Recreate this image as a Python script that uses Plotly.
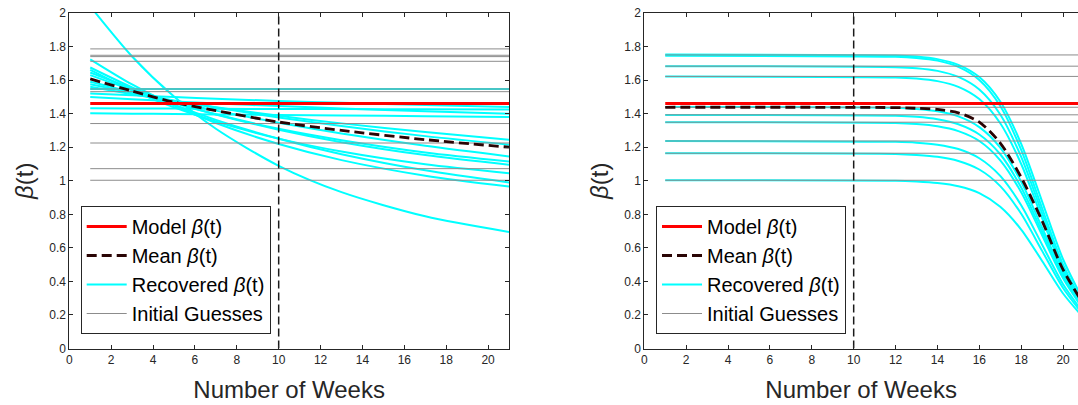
import plotly.graph_objects as go

# ---------------- data ----------------
MODEL_BETA = 1.46
CUTOFF_WEEK = 10
Y_LIMITS = [0, 2]

# Left panel
LEFT_WEEKS = [1, 3, 5, 7, 10, 13, 17, 21]
left_recovered = [
    [2.040, 1.741, 1.502, 1.310, 1.089, 0.932, 0.788, 0.695],
    [1.724, 1.574, 1.449, 1.344, 1.219, 1.123, 1.030, 0.965],
    [1.675, 1.556, 1.453, 1.363, 1.250, 1.158, 1.062, 0.990],
    [1.661, 1.539, 1.438, 1.353, 1.251, 1.174, 1.098, 1.045],
    [1.645, 1.550, 1.467, 1.395, 1.304, 1.230, 1.153, 1.095],
    [1.630, 1.541, 1.463, 1.396, 1.310, 1.242, 1.169, 1.115],
    [1.590, 1.528, 1.471, 1.418, 1.346, 1.282, 1.208, 1.145],
    [1.575, 1.525, 1.478, 1.436, 1.377, 1.326, 1.266, 1.215],
    [1.560, 1.516, 1.475, 1.438, 1.387, 1.342, 1.290, 1.245],
    [1.547, 1.547, 1.547, 1.547, 1.547, 1.547, 1.547, 1.547],
    [1.520, 1.509, 1.499, 1.489, 1.476, 1.465, 1.451, 1.440],
    [1.500, 1.486, 1.473, 1.461, 1.445, 1.431, 1.414, 1.400],
    [1.432, 1.431, 1.430, 1.429, 1.428, 1.427, 1.426, 1.425],
    [1.402, 1.400, 1.398, 1.395, 1.392, 1.389, 1.385, 1.380],
]
left_mean = [1.607, 1.535, 1.468, 1.418, 1.350, 1.300, 1.245, 1.200]
left_guesses = [1.786, 1.748, 1.740, 1.712, 1.547, 1.531, 1.341, 1.225, 1.072, 1.003]
LEFT_SPAN = [1, 21]

# Right panel
RIGHT_WEEKS = [1, 12, 13, 14, 15, 16, 17, 18, 19, 20, 21]
right_recovered = [
    [1.752, 1.747, 1.740, 1.725, 1.691, 1.618, 1.472, 1.220, 0.876, 0.532, 0.280],
    [1.745, 1.739, 1.732, 1.716, 1.679, 1.601, 1.446, 1.184, 0.836, 0.500, 0.260],
    [1.683, 1.677, 1.671, 1.655, 1.619, 1.544, 1.395, 1.142, 0.807, 0.482, 0.251],
    [1.621, 1.616, 1.609, 1.594, 1.560, 1.487, 1.343, 1.100, 0.777, 0.464, 0.241],
    [1.440, 1.435, 1.428, 1.414, 1.384, 1.320, 1.198, 0.994, 0.720, 0.446, 0.242],
    [1.392, 1.387, 1.381, 1.367, 1.337, 1.276, 1.158, 0.960, 0.696, 0.432, 0.234],
    [1.349, 1.344, 1.338, 1.325, 1.296, 1.237, 1.122, 0.931, 0.675, 0.418, 0.227],
    [1.237, 1.232, 1.227, 1.215, 1.189, 1.134, 1.029, 0.854, 0.619, 0.383, 0.208],
    [1.164, 1.160, 1.154, 1.143, 1.118, 1.067, 0.968, 0.803, 0.582, 0.361, 0.196],
    [1.003, 1.000, 0.995, 0.986, 0.967, 0.926, 0.845, 0.709, 0.522, 0.328, 0.180],
]
right_mean = [1.438, 1.436, 1.432, 1.425, 1.405, 1.350, 1.225, 1.020, 0.760, 0.470, 0.260]
right_guesses = [1.750, 1.683, 1.622, 1.438, 1.393, 1.349, 1.237, 1.164, 1.003]
RIGHT_SPAN = [1, 21]

X_TICKS = [0, 2, 4, 6, 8, 10, 12, 14, 16, 18, 20]
Y_TICKS = [0, 0.2, 0.4, 0.6, 0.8, 1, 1.2, 1.4, 1.6, 1.8, 2]

LEGEND_NAMES = ["Model <i>β</i>(t)", "Mean <i>β</i>(t)", "Recovered <i>β</i>(t)", "Initial Guesses"]

# ---------------- styles ----------------
CYAN = "#00ffff"
GRAY = "#8c8c8c"
RED = "#ff0000"
MEAN_COL = "#2a0505"
AX_COL = "#262626"
FONT = "Liberation Sans"

fig = go.Figure()


def add_panel(xa, ya, legend, weeks, recovered, mean, guesses, span):
    for i, vals in enumerate(recovered):
        fig.add_trace(go.Scatter(
            x=weeks, y=vals, mode="lines", xaxis=xa, yaxis=ya,
            line=dict(color=CYAN, width=2, shape="spline", smoothing=0.8),
            name=LEGEND_NAMES[2], legendgroup="rec" + legend, showlegend=(i == 0),
            legend=legend, legendrank=3, hoverinfo="skip"))
    for i, g in enumerate(guesses):
        fig.add_trace(go.Scatter(
            x=span, y=[g, g], mode="lines", xaxis=xa, yaxis=ya,
            line=dict(color=GRAY, width=1),
            name=LEGEND_NAMES[3], legendgroup="ig" + legend, showlegend=(i == 0),
            legend=legend, legendrank=4, hoverinfo="skip"))
    fig.add_trace(go.Scatter(
        x=[CUTOFF_WEEK, CUTOFF_WEEK], y=Y_LIMITS, mode="lines", xaxis=xa, yaxis=ya,
        line=dict(color="#1a1a1a", width=1.5, dash="8px,4px"),
        showlegend=False, hoverinfo="skip"))
    fig.add_trace(go.Scatter(
        x=weeks, y=mean, mode="lines", xaxis=xa, yaxis=ya,
        line=dict(color=MEAN_COL, width=2.8, dash="10px,5px", shape="spline", smoothing=0.8),
        name=LEGEND_NAMES[1], legend=legend, legendrank=2, hoverinfo="skip"))
    fig.add_trace(go.Scatter(
        x=span, y=[MODEL_BETA, MODEL_BETA], mode="lines", xaxis=xa, yaxis=ya,
        line=dict(color=RED, width=3),
        name=LEGEND_NAMES[0], legend=legend, legendrank=1, hoverinfo="skip"))


add_panel("x", "y", "legend", LEFT_WEEKS, left_recovered, left_mean, left_guesses, LEFT_SPAN)
add_panel("x2", "y2", "legend2", RIGHT_WEEKS, right_recovered, right_mean, right_guesses, RIGHT_SPAN)

W, H = 1078, 405
L_x0, L_x1 = 69.3, 509.0
R_x0 = 644.3
PX_PER_WEEK = (L_x1 - L_x0) / 21
R_xmax = (W - R_x0) / PX_PER_WEEK
y_top, y_bot = 13, 348.5


def xax(domain, rng, mirror):
    return dict(domain=domain, range=rng, tickvals=X_TICKS, ticks="inside", ticklen=4,
                tickcolor=AX_COL, showline=True, linecolor=AX_COL, linewidth=1,
                mirror=mirror, showgrid=False, zeroline=False, automargin=False,
                tickfont=dict(family=FONT, size=12, color=AX_COL),
                title=dict(text="Number of Weeks", font=dict(family=FONT, size=24, color=AX_COL),
                           standoff=15))


def yax(anchor, mirror):
    return dict(domain=[1 - y_bot / H, 1 - y_top / H], range=Y_LIMITS, tickvals=Y_TICKS,
                anchor=anchor, ticks="inside", ticklen=4, tickcolor=AX_COL, showline=True,
                linecolor=AX_COL, linewidth=1, mirror=mirror, showgrid=False, zeroline=False,
                automargin=False, tickfont=dict(family=FONT, size=12, color=AX_COL),
                title=dict(text="<i>β</i>(t)", font=dict(family=FONT, size=24, color=AX_COL),
                           standoff=8))


leg_common = dict(bgcolor="white", bordercolor=AX_COL, borderwidth=1,
                  font=dict(family=FONT, size=20, color="black"),
                  xanchor="left", yanchor="top", tracegroupgap=0, itemwidth=40,
                  traceorder="normal")

fig.update_layout(
    width=W, height=H, margin=dict(l=0, r=0, t=0, b=0),
    paper_bgcolor="white", plot_bgcolor="white",
    xaxis=dict(**xax([L_x0 / W, L_x1 / W], [0, 21], "ticks"), anchor="y"),
    yaxis=yax("x", "ticks"),
    xaxis2=dict(**xax([R_x0 / W, 1.0], [0, R_xmax], "ticks"), anchor="y2"),
    yaxis2=yax("x2", False),
    legend=dict(**leg_common, x=80.7 / W, y=1 - 206 / H),
    legend2=dict(**leg_common, x=656 / W, y=1 - 206 / H),
    showlegend=True,
)

fig.write_html("out.html")
